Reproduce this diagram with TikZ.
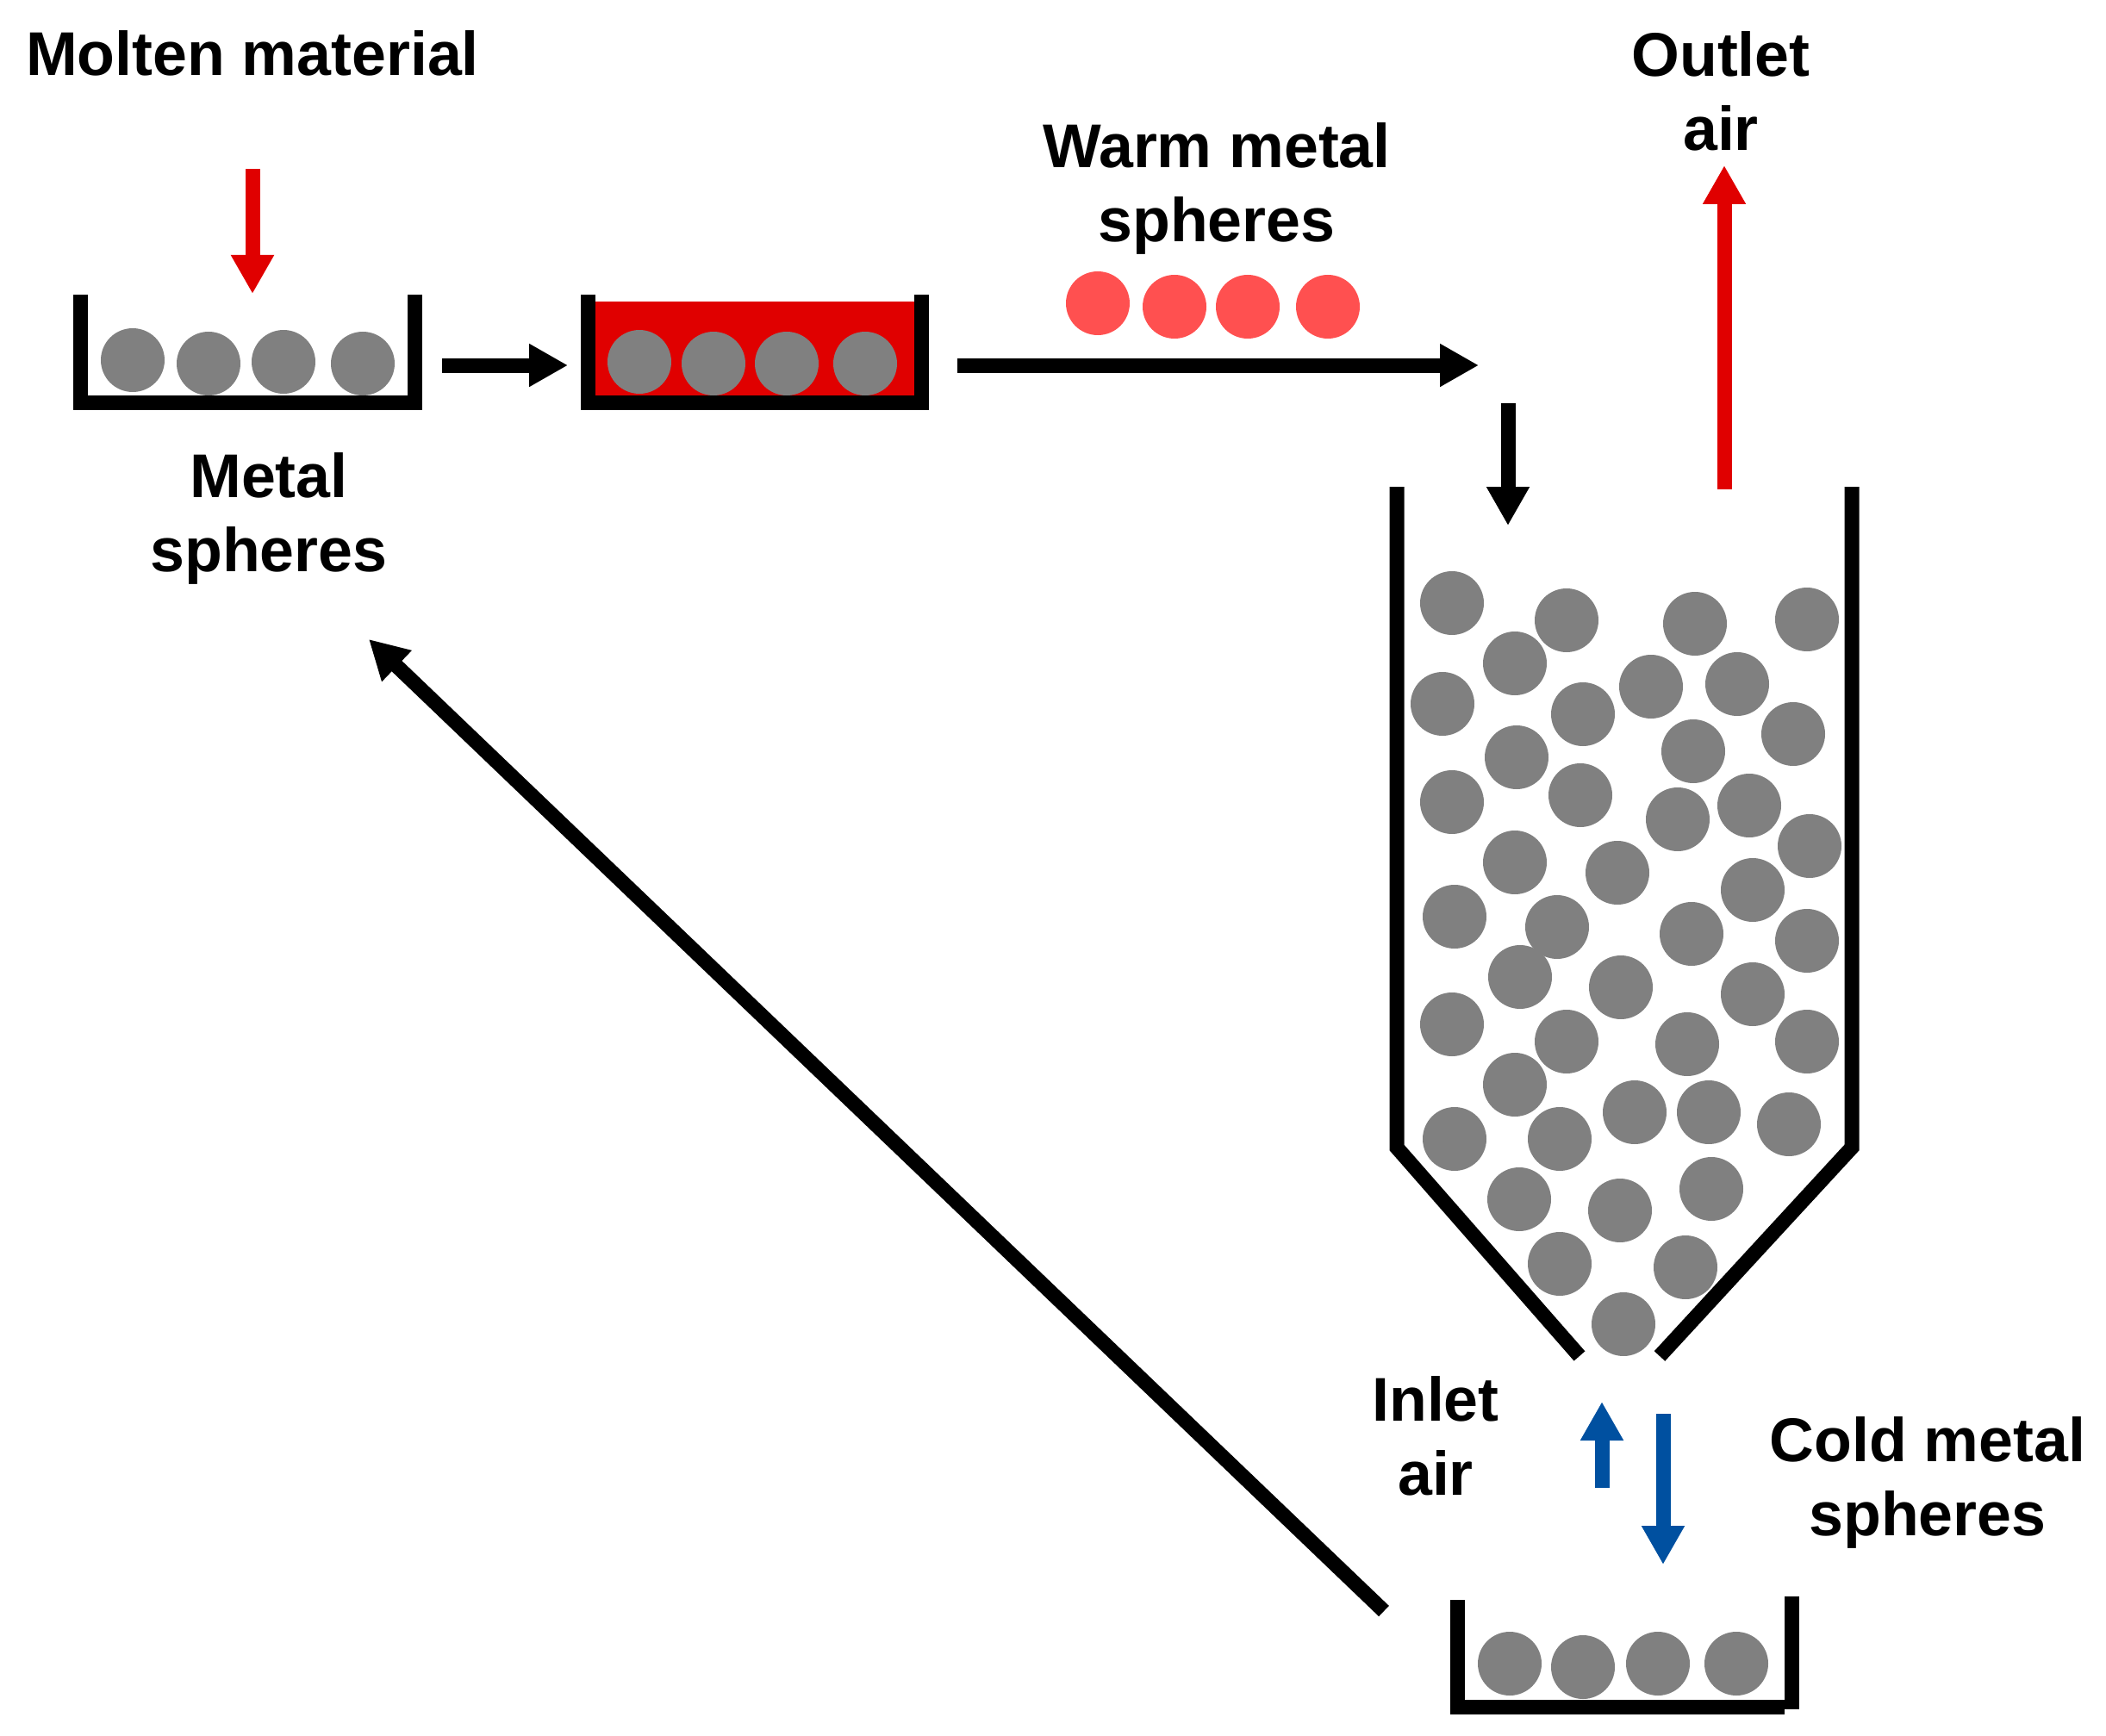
\documentclass[tikz,border=0pt]{standalone}
\usepackage{fontspec}
\setmainfont{Liberation Sans}
\usetikzlibrary{arrows.meta}
\definecolor{moltenred}{HTML}{E00000}
\definecolor{warmred}{HTML}{FF5050}
\definecolor{coldblue}{HTML}{0050A0}
\definecolor{spheregray}{HTML}{808080}
\tikzset{
	txt/.style={align=center, font=\fontsize{20.4}{24.4}\selectfont\bfseries},
	sphere/.style={circle, fill=spheregray, inner sep=0pt, minimum size=0.74cm},
	warmsphere/.style={sphere, fill=warmred},
	wall/.style={line width=0.17cm, miter limit=10},
	flow/.style={line width=0.17cm, -{Triangle[length=0.45cm,width=0.47cm]}},
}
\begin{document}
\begin{tikzpicture}
			\useasboundingbox (0,0) rectangle (24.44,-20.15);

			\fill [moltenred] (6.90,-3.50) rectangle (10.62,-4.62);
			\draw [wall] (0.935,-3.42) -- (0.935,-4.675) -- (4.81,-4.675) -- (4.81,-3.42);
			\draw [wall] (6.82,-3.42) -- (6.82,-4.675) -- (10.695,-4.675) -- (10.695,-3.42);
			\draw [wall] (16.21,-5.65) -- (16.21,-13.32) -- (18.33,-15.74);
			\draw [wall] (21.49,-5.65) -- (21.49,-13.32) -- (19.26,-15.74);
			\draw [wall] (16.915,-18.57) -- (16.915,-19.81) -- (20.71,-19.81);
			\draw [wall] (20.79,-18.53) -- (20.79,-19.84);

			\node [sphere] (a1) at (1.54,-4.18) {};
			\node [sphere] (a2) at (2.42,-4.22) {};
			\node [sphere] (a3) at (3.29,-4.20) {};
			\node [sphere] (a4) at (4.21,-4.22) {};

			\node [sphere] (b1) at (7.42,-4.20) {};
			\node [sphere] (b2) at (8.28,-4.22) {};
			\node [sphere] (b3) at (9.13,-4.22) {};
			\node [sphere] (b4) at (10.04,-4.22) {};

			\node [warmsphere] (w1) at (12.74,-3.52) {};
			\node [warmsphere] (w2) at (13.63,-3.56) {};
			\node [warmsphere] (w3) at (14.48,-3.56) {};
			\node [warmsphere] (w4) at (15.41,-3.56) {};

			\node [sphere] (c1) at (17.52,-19.31) {};
			\node [sphere] (c2) at (18.37,-19.35) {};
			\node [sphere] (c3) at (19.24,-19.31) {};
			\node [sphere] (c4) at (20.15,-19.31) {};

			\node [sphere] (h1) at (16.85,-7.00) {};
			\node [sphere] (h2) at (18.18,-7.20) {};
			\node [sphere] (h3) at (19.67,-7.24) {};
			\node [sphere] (h4) at (20.97,-7.19) {};
			\node [sphere] (h5) at (17.58,-7.70) {};
			\node [sphere] (h6) at (16.74,-8.17) {};
			\node [sphere] (h7) at (18.37,-8.29) {};
			\node [sphere] (h8) at (19.16,-7.97) {};
			\node [sphere] (h9) at (20.16,-7.94) {};
			\node [sphere] (h10) at (20.81,-8.52) {};
			\node [sphere] (h11) at (19.65,-8.72) {};
			\node [sphere] (h12) at (17.60,-8.79) {};
			\node [sphere] (h13) at (16.85,-9.31) {};
			\node [sphere] (h14) at (18.34,-9.23) {};
			\node [sphere] (h15) at (19.47,-9.51) {};
			\node [sphere] (h16) at (20.30,-9.35) {};
			\node [sphere] (h17) at (21.00,-9.82) {};
			\node [sphere] (h18) at (17.58,-10.01) {};
			\node [sphere] (h19) at (18.77,-10.13) {};
			\node [sphere] (h20) at (20.34,-10.33) {};
			\node [sphere] (h21) at (16.88,-10.64) {};
			\node [sphere] (h22) at (18.07,-10.76) {};
			\node [sphere] (h23) at (19.63,-10.84) {};
			\node [sphere] (h24) at (20.97,-10.92) {};
			\node [sphere] (h25) at (17.64,-11.34) {};
			\node [sphere] (h26) at (18.81,-11.46) {};
			\node [sphere] (h27) at (20.34,-11.54) {};
			\node [sphere] (h28) at (16.85,-11.89) {};
			\node [sphere] (h29) at (18.18,-12.09) {};
			\node [sphere] (h30) at (19.58,-12.12) {};
			\node [sphere] (h31) at (20.97,-12.09) {};
			\node [sphere] (h32) at (17.58,-12.59) {};
			\node [sphere] (h33) at (18.97,-12.91) {};
			\node [sphere] (h34) at (19.83,-12.91) {};
			\node [sphere] (h35) at (20.76,-13.05) {};
			\node [sphere] (h36) at (16.88,-13.22) {};
			\node [sphere] (h37) at (18.10,-13.22) {};
			\node [sphere] (h38) at (17.63,-13.92) {};
			\node [sphere] (h39) at (18.80,-14.05) {};
			\node [sphere] (h40) at (19.86,-13.80) {};
			\node [sphere] (h41) at (18.10,-14.67) {};
			\node [sphere] (h42) at (19.56,-14.71) {};
			\node [sphere] (h43) at (18.84,-15.37) {};

			\coordinate (moltenstart) at (2.93,-1.96);
			\coordinate (moltenend) at (2.93,-3.41);
			\coordinate (passstart) at (5.13,-4.24);
			\coordinate (passend) at (6.59,-4.24);
			\coordinate (warmstart) at (11.11,-4.24);
			\coordinate (warmend) at (17.16,-4.24);
			\coordinate (feedstart) at (17.50,-4.68);
			\coordinate (feedend) at (17.50,-6.10);
			\coordinate (outletstart) at (20.01,-5.68);
			\coordinate (outletend) at (20.01,-1.92);
			\coordinate (inletstart) at (18.59,-17.27);
			\coordinate (inletend) at (18.59,-16.27);
			\coordinate (coldstart) at (19.30,-16.41);
			\coordinate (coldend) at (19.30,-18.16);
			\coordinate (returnstart) at (16.06,-18.70);
			\coordinate (returnend) at (4.28,-7.42);

			\draw [flow, moltenred] (moltenstart) -- (moltenend);
			\draw [flow] (passstart) -- (passend);
			\draw [flow] (warmstart) -- (warmend);
			\draw [flow] (feedstart) -- (feedend);
			\draw [flow, moltenred] (outletstart) -- (outletend);
			\draw [flow, coldblue] (inletstart) -- (inletend);
			\draw [flow, coldblue] (coldstart) -- (coldend);
			\draw [flow] (returnstart) -- (returnend);

			\node [txt] (molten) at (2.93,-0.62) {Molten material};
			\node [txt] (metal) at (3.12,-6.02) {Metal\\spheres};
			\node [txt] (warm) at (14.12,-2.19) {Warm metal\\spheres};
			\node [txt] (outlet) at (19.97,-1.06) {Outlet\\air};
			\node [txt] (inlet) at (16.66,-16.67) {Inlet\\air};
			\node [txt] (cold) at (22.37,-17.21) {Cold metal\\spheres};
		\end{tikzpicture}
\end{document}
